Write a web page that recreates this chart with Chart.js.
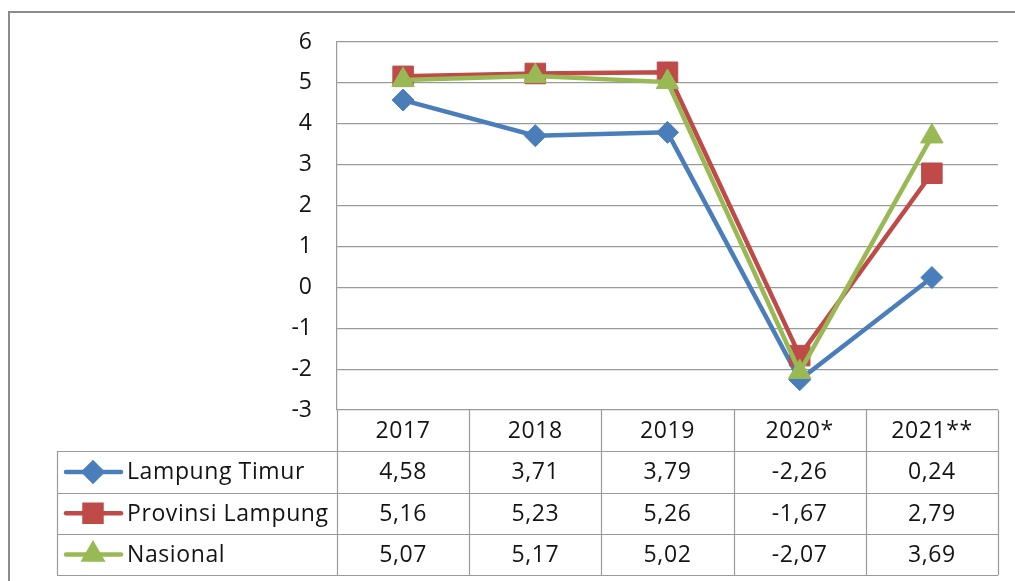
<!DOCTYPE html>
<html>
<head>
<meta charset="utf-8">
<script src="https://cdn.jsdelivr.net/npm/chart.js@4/dist/chart.umd.min.js"></script>
<style>
    html, body { margin: 0; padding: 0; background: #fff; }
    #wrap { width: 1015px; height: 581px; }
</style>
</head>
<body>
<div id="wrap"><canvas id="growthChart" width="1015" height="581"></canvas></div>
<script>
const years = ['2017', '2018', '2019', '2020*', '2021**'];
const lampungTimur = [4.58, 3.71, 3.79, -2.26, 0.24];
const provinsiLampung = [5.16, 5.23, 5.26, -1.67, 2.79];
const nasional = [5.07, 5.17, 5.02, -2.07, 3.69];
const seriesNames = ['Lampung Timur', 'Provinsi Lampung', 'Nasional'];
const yTicks = [-3, -2, -1, 0, 1, 2, 3, 4, 5, 6];

const blue = '#4a7ebb';
const red = '#be4b48';
const green = '#98b954';
const gridColor = '#9a9a9a';
const textColor = '#141414';
const fontFamily = '"Open Sans", "Noto Sans", sans-serif';

function fmt(v) {
    return v.toFixed(2).replace('.', ',');
}

// data table under the plot, drawn from the x scale columns
const dataTable = {
    id: 'dataTable',
    afterDraw(chart) {
        const ctx = chart.ctx;
        const x = chart.scales.x;
        const area = chart.chartArea;
        const rowH = 41.3;
        const tableLeft = 57;
        const top = area.bottom;
        const half = (x.getPixelForValue(1) - x.getPixelForValue(0)) / 2;
        const rows = [lampungTimur, provinsiLampung, nasional];
        const styles = [
            { color: blue, pointStyle: 'rectRot', radius: 9 },
            { color: red, pointStyle: 'rect', radius: 12 },
            { color: green, pointStyle: 'triangle', radius: 10 }
        ];

        ctx.save();
        ctx.strokeStyle = gridColor;
        ctx.lineWidth = 1.2;

        // vertical lines
        ctx.beginPath();
        for (let i = 0; i <= years.length; i++) {
            const px = Math.round(x.getPixelForValue(i) - half) + 0.5;
            ctx.moveTo(px, top);
            ctx.lineTo(px, top + rowH * 4);
        }
        ctx.moveTo(tableLeft + 0.5, top + rowH);
        ctx.lineTo(tableLeft + 0.5, top + rowH * 4);
        // horizontal lines
        for (let r = 1; r <= 4; r++) {
            const py = Math.round(top + rowH * r) + 0.5;
            ctx.moveTo(tableLeft, py);
            ctx.lineTo(area.right, py);
        }
        ctx.stroke();

        ctx.fillStyle = textColor;
        ctx.font = '23px ' + fontFamily;
        ctx.letterSpacing = '0.6px';
        ctx.textAlign = 'center';
        ctx.textBaseline = 'middle';
        years.forEach((y, i) => {
            ctx.fillText(y, x.getPixelForValue(i), top + rowH * 0.5 + 1);
        });

        rows.forEach((vals, r) => {
            const cy = top + rowH * (r + 1.5) + 1;
            vals.forEach((v, i) => {
                ctx.fillText(fmt(v), x.getPixelForValue(i), cy);
            });
        });

        // legend keys
        ctx.textAlign = 'left';
        rows.forEach((vals, r) => {
            const cy = top + rowH * (r + 1.5);
            const s = styles[r];
            ctx.strokeStyle = s.color;
            ctx.lineWidth = 4.5;
            ctx.lineCap = 'round';
            ctx.beginPath();
            ctx.moveTo(66, cy);
            ctx.lineTo(121, cy);
            ctx.stroke();
            ctx.fillStyle = s.color;
            ctx.strokeStyle = s.color;
            Chart.helpers.drawPoint(ctx, { pointStyle: s.pointStyle, radius: s.radius, rotation: 0, borderWidth: 1 }, 93, cy);
            ctx.fillStyle = textColor;
            ctx.fillText(seriesNames[r], 127, cy + 1);
        });

        // outer chart frame
        ctx.strokeStyle = '#8c8c8c';
        ctx.lineWidth = 2;
        ctx.lineCap = 'butt';
        ctx.strokeRect(9, 12, 1030, 600);
        ctx.restore();
    }
};

new Chart(document.getElementById('growthChart'), {
    type: 'line',
    data: {
        labels: years,
        datasets: [
            {
                label: seriesNames[0],
                data: lampungTimur,
                borderColor: blue,
                backgroundColor: blue,
                borderWidth: 4.5,
                pointStyle: 'rectRot',
                pointRadius: 11,
                pointBorderWidth: 1,
                order: 3
            },
            {
                label: seriesNames[1],
                data: provinsiLampung,
                borderColor: red,
                backgroundColor: red,
                borderWidth: 4.5,
                pointStyle: 'rect',
                pointRadius: 14.5,
                pointBorderWidth: 1,
                order: 2
            },
            {
                label: seriesNames[2],
                data: nasional,
                borderColor: green,
                backgroundColor: green,
                borderWidth: 4.5,
                pointStyle: 'triangle',
                pointRadius: 13,
                pointBorderWidth: 1,
                order: 1
            }
        ]
    },
    options: {
        responsive: false,
        animation: false,
        clip: false,
        layout: {
            padding: { top: 42, right: 17, bottom: 171, left: 0 }
        },
        plugins: {
            legend: { display: false },
            tooltip: { enabled: false }
        },
        scales: {
            x: {
                display: false,
                offset: true
            },
            y: {
                min: -3,
                max: 6,
                afterFit(scale) {
                    scale.width = 337;
                },
                afterBuildTicks(scale) {
                    scale.ticks = yTicks.map(v => ({ value: v }));
                },
                grid: {
                    color: gridColor,
                    lineWidth: 1.2,
                    drawTicks: false
                },
                border: {
                    display: true,
                    color: gridColor,
                    width: 1.2
                },
                ticks: {
                    padding: 25,
                    color: textColor,
                    font: { size: 23, family: fontFamily }
                }
            }
        }
    },
    plugins: [dataTable]
});
</script>
</body>
</html>
